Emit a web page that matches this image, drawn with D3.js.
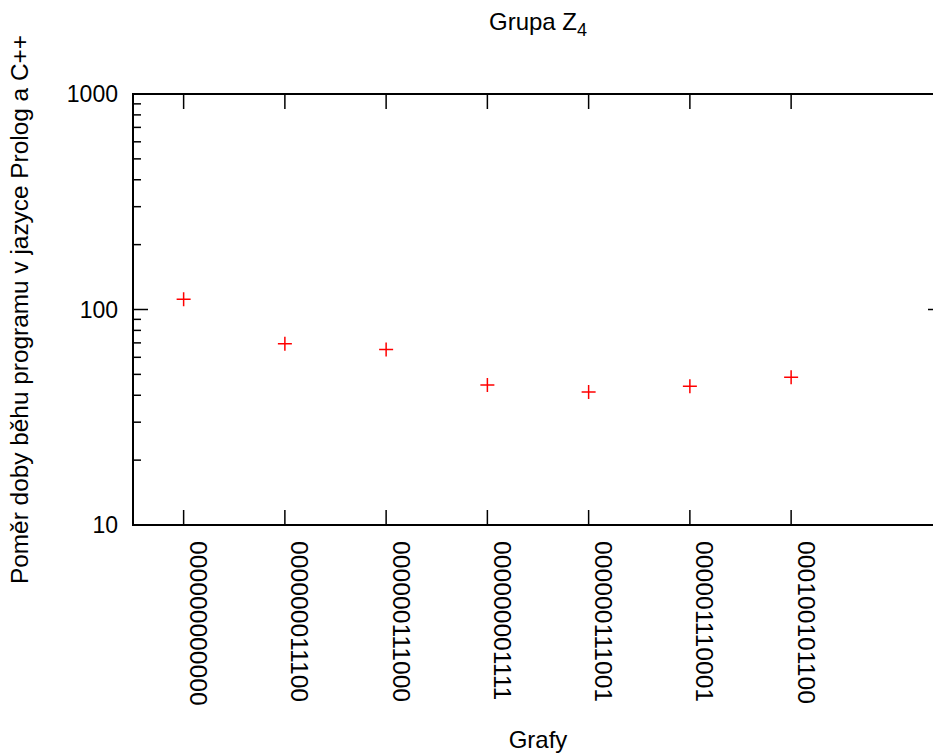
<!DOCTYPE html>
<html><head><meta charset="utf-8">
<script src="https://cdn.jsdelivr.net/npm/d3@7/dist/d3.min.js"></script>
<style>body{margin:0;background:#fff}svg{display:block}text{font-family:"Liberation Sans",Arial,sans-serif;fill:#000}</style>
</head><body>
<svg id="chart" width="933" height="756"></svg>
<script>
const categories = ["000000000000","000000011100","000000111000","000000001111","000000111001","000001110001","000100101100"];
const values = [111.5, 69.4, 65.3, 44.6, 41.4, 44.0, 48.5];
const yTicks = [10, 100, 1000];
const titleText = "Grupa Z";
const titleSub = "4";
const xLabel = "Grafy";
const yLabel = "Poměr doby běhu programu v jazyce Prolog a C++";

(function () {
const svg = d3.select("#chart");
const pLeft = 133, pRight = 943, pTop = 94, pBottom = 525;
const x = d3.scaleLinear().domain([-0.5, 7.5]).range([pLeft, pRight]);
const y = d3.scaleLog().domain([10, 1000]).range([pBottom, pTop]);

const minor = [];
[10, 100].forEach(d => { for (let k = 2; k <= 9; k++) minor.push(d * k); });
const g = svg.append("g");
g.selectAll(".minorL").data(minor).join("line")
  .attr("x1", pLeft).attr("x2", pLeft + 8).attr("y1", d => y(d)).attr("y2", d => y(d))
  .attr("stroke", "#000").attr("stroke-width", 1.5);
g.selectAll(".minorR").data(minor).join("line")
  .attr("x1", pRight).attr("x2", pRight - 8).attr("y1", d => y(d)).attr("y2", d => y(d))
  .attr("stroke", "#000").attr("stroke-width", 1.5);
g.selectAll(".majL").data(yTicks).join("line")
  .attr("x1", pLeft).attr("x2", pLeft + 15).attr("y1", d => y(d)).attr("y2", d => y(d))
  .attr("stroke", "#000").attr("stroke-width", 1.5);
g.selectAll(".majR").data(yTicks).join("line")
  .attr("x1", pRight).attr("x2", pRight - 15).attr("y1", d => y(d)).attr("y2", d => y(d))
  .attr("stroke", "#000").attr("stroke-width", 1.5);
g.selectAll(".ylab").data(yTicks).join("text")
  .attr("x", pLeft - 15).attr("y", d => y(d)).attr("text-anchor", "end")
  .attr("dominant-baseline", "central").style("font-size", "23px").text(d => d);

g.selectAll(".xb").data(categories).join("line")
  .attr("x1", (d, i) => x(i)).attr("x2", (d, i) => x(i)).attr("y1", pBottom).attr("y2", pBottom - 15)
  .attr("stroke", "#000").attr("stroke-width", 1.5);
g.selectAll(".xt").data(categories).join("line")
  .attr("x1", (d, i) => x(i)).attr("x2", (d, i) => x(i)).attr("y1", pTop).attr("y2", pTop + 15)
  .attr("stroke", "#000").attr("stroke-width", 1.5);
g.selectAll(".xlab").data(categories).join("text")
  .attr("transform", (d, i) => `translate(${x(i) + 15},${pBottom + 16}) rotate(90)`)
  .attr("text-anchor", "start").attr("dominant-baseline", "central")
  .style("font-size", "24.7px").text(d => d);

svg.append("path").attr("d", `M${pRight},${pTop}H${pLeft}V${pBottom}H${pRight}`)
  .attr("fill", "none").attr("stroke", "#000").attr("stroke-width", 2);

const pts = svg.append("g");
values.forEach((v, i) => {
  const cx = x(i), cy = y(v);
  pts.append("path").attr("d", `M${cx-7},${cy}H${cx+7}M${cx},${cy-7}V${cy+7}`)
    .attr("stroke", "#f00").attr("stroke-width", 1.5).attr("fill", "none");
});

const t = svg.append("text").attr("x", (pLeft + pRight) / 2).attr("y", 30)
  .attr("text-anchor", "middle").style("font-size", "24px");
t.append("tspan").text(titleText);
t.append("tspan").attr("dy", 6).style("font-size", "18px").text(titleSub);

svg.append("text").attr("x", (pLeft + pRight) / 2).attr("y", 748)
  .attr("text-anchor", "middle").style("font-size", "24px").text(xLabel);
svg.append("text").attr("transform", `translate(28,${(pTop + pBottom) / 2}) rotate(-90)`)
  .attr("text-anchor", "middle").style("font-size", "24.4px").text(yLabel);
})();
</script>
</body></html>
